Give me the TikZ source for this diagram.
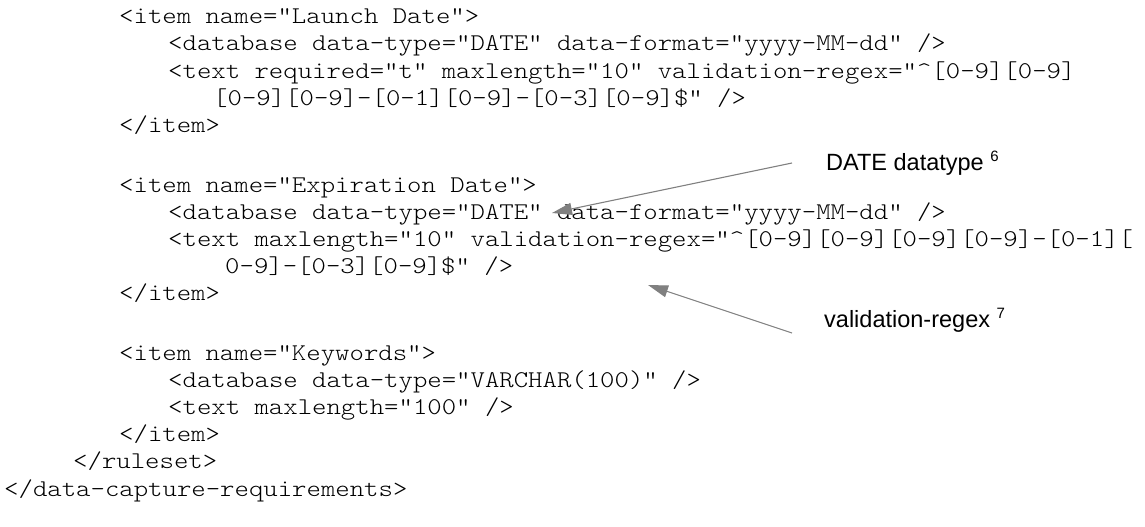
\documentclass[tikz,border=0pt]{standalone}
\usepackage{fontspec}
\setsansfont{Liberation Sans}
\newfontfamily\codefont{lmmonolt10-regular.otf}[FakeStretch=1.143]
\usepackage{tikz}
\usetikzlibrary{arrows.meta}
\definecolor{calloutgray}{RGB}{128,128,128}
\definecolor{codeblack}{RGB}{0,0,0}
\newcommand{\notemark}[1]{\raisebox{9pt}{\fontsize{15}{15}\selectfont #1}}

\begin{document}
\begin{tikzpicture}[x=1pt,y=-1pt,
    codeline/.style={anchor=base west,inner sep=0pt,text=codeblack,font=\codefont\fontsize{24}{27}\selectfont},
    note/.style={anchor=west,inner sep=0pt,font=\sffamily\fontsize{23.5}{26}\selectfont},
    callout/.style={draw=calloutgray,line width=1.1pt,-{Triangle[length=20pt,width=12pt]}}]

    \useasboundingbox (0,0) rectangle (1145,527);

    \node[codeline] (launchItem) at (119,24) {<item name="Launch Date">};
    \node[codeline] (launchDb) at (168,51) {<database data-type="DATE" data-format="yyyy-MM-dd" />};
    \node[codeline] (launchText) at (168,78) {<text required="t" maxlength="10" validation-regex="\textasciicircum[0-9][0-9]};
    \node[codeline] (launchRegex) at (213,105) {[0-9][0-9]-[0-1][0-9]-[0-3][0-9]\$" />};
    \node[codeline] (launchEnd) at (119,132) {</item>};

    \node[codeline] (expItem) at (119,192) {<item name="Expiration Date">};
    \node[codeline] (expDb) at (168,219) {<database data-type="DATE" data-format="yyyy-MM-dd" />};
    \node[codeline] (expText) at (168,246) {<text maxlength="10" validation-regex="\textasciicircum[0-9][0-9][0-9][0-9]-[0-1][};
    \node[codeline] (expRegex) at (225,273) {0-9]-[0-3][0-9]\$" />};
    \node[codeline] (expEnd) at (119,300) {</item>};

    \node[codeline] (kwItem) at (119,360) {<item name="Keywords">};
    \node[codeline] (kwDb) at (168,387) {<database data-type="VARCHAR(100)" />};
    \node[codeline] (kwText) at (168,414) {<text maxlength="100" />};
    \node[codeline] (kwEnd) at (119,441) {</item>};
    \node[codeline] (rulesetEnd) at (73,468) {</ruleset>};
    \node[codeline] (rootEnd) at (4,496) {</data-capture-requirements>};

    % callouts
    \node[note] (dateNote) at (826,163) {DATE datatype \notemark{6}};
    \node[note] (regexNote) at (824,320) {validation-regex \notemark{7}};

    \coordinate (dateTip) at (552,213);
    \coordinate (regexTip) at (648,285);

    \draw[callout] ([xshift=-34pt]dateNote.west) -- (dateTip);
    \draw[callout] ([xshift=-32pt,yshift=-13pt]regexNote.west) -- (regexTip);

\end{tikzpicture}
\end{document}
